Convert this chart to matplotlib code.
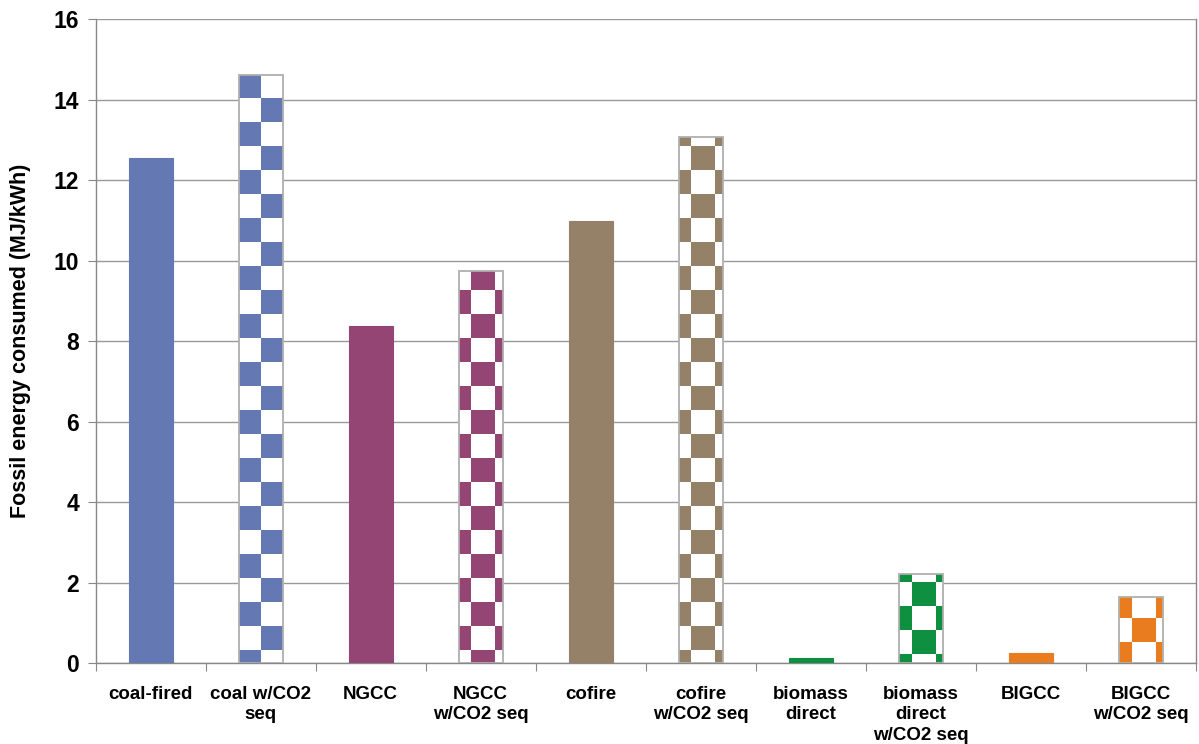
import numpy as np
import matplotlib.pyplot as plt
from matplotlib.patches import Rectangle

categories = ['coal-fired', 'coal w/CO2\nseq', 'NGCC', 'NGCC\nw/CO2 seq', 'cofire',
              'cofire\nw/CO2 seq', 'biomass\ndirect', 'biomass\ndirect\nw/CO2 seq',
              'BIGCC', 'BIGCC\nw/CO2 seq']
values = [12.56, 14.62, 8.38, 9.75, 10.99, 13.08, 0.14, 2.23, 0.25, 1.65]
colors = ['#6478b4', '#6478b4', '#954574', '#954574', '#948168', '#948168',
          '#0e9040', '#0e9040', '#e87c1e', '#e87c1e']
checkered = [False, True, False, True, False, True, False, True, False, True]
# pattern phase per bar: (x offset px from bar left, y offset px from bottom, parity)
phase = [None, (22, 13, 0), None, (12, 13, 1), None, (12, 13, 0), None, (13, 9, 0),
         None, (13, 21, 0)]

plt.rcParams['font.family'] = ['Liberation Sans', 'DejaVu Sans']
plt.rcParams['font.weight'] = 'bold'

W, H = 1199, 744
fig = plt.figure(figsize=(W / 100, H / 100), dpi=100)
ax_l, ax_r, ax_t, ax_b = 95.7, 1195.7, 19, 663.3
ax = fig.add_axes([ax_l / W, (H - ax_b) / H, (ax_r - ax_l) / W, (ax_b - ax_t) / H])

n = len(categories)
ax.set_xlim(-0.5, n - 0.5)
ax.set_ylim(0, 16)
px_x = n / (ax_r - ax_l)
px_y = 16 / (ax_b - ax_t)
cell = 24
bw = 0.4

x = np.arange(n)
for i in range(n):
    if not checkered[i]:
        ax.bar(x[i], values[i], width=bw, color=colors[i], edgecolor=colors[i],
               linewidth=0.8, zorder=3)
        continue
    bars = ax.bar(x[i], values[i], width=bw, color='white', edgecolor='#b4b4b4',
                  linewidth=1.2, zorder=3)
    bar = bars[0]
    left = x[i] - bw / 2
    ox, oy, par = phase[i]
    x0 = left + ox * px_x - cell * px_x
    y0 = oy * px_y - cell * px_y
    ncol = 4
    nrow = int(values[i] / (cell * px_y)) + 3
    for c in range(ncol):
        for r in range(nrow):
            if (c + r + par) % 2 == 0:
                rect = Rectangle((x0 + c * cell * px_x, y0 + r * cell * px_y),
                                 cell * px_x, cell * px_y, facecolor=colors[i],
                                 edgecolor='none', zorder=3.5)
                ax.add_patch(rect)
                rect.set_clip_path(bar)
    ax.bar(x[i], values[i], width=bw, color='none', edgecolor='#b4b4b4',
           linewidth=1.2, zorder=4)

ax.set_yticks(np.arange(0, 17, 2))
ax.set_yticklabels([str(v) for v in range(0, 17, 2)], fontsize=16.5, fontweight='bold')
ax.yaxis.grid(True, color='#999999', linewidth=1.0, zorder=0)
ax.set_axisbelow(True)

ax.set_xticks(np.arange(-0.5, n, 1.0))
ax.set_xticklabels([])
ax.set_xticks(x, minor=True)
ax.set_xticklabels(categories, minor=True, fontsize=13.5, fontweight='bold',
                   linespacing=1.3, va='top')
ax.tick_params(axis='x', which='minor', length=0, pad=16)
ax.tick_params(axis='x', which='major', length=6, color='#888888', direction='out')
ax.tick_params(axis='y', length=6, color='#888888', direction='out', pad=6)

for s in ['left', 'bottom', 'right']:
    ax.spines[s].set_color('#888888')
    ax.spines[s].set_linewidth(1.0)
ax.spines['top'].set_visible(False)

ax.set_ylabel('Fossil energy consumed (MJ/kWh)', fontsize=15.5, fontweight='bold')
ax.yaxis.set_label_coords(-0.0588, 0.5)

fig.savefig('out.png', dpi=100)
